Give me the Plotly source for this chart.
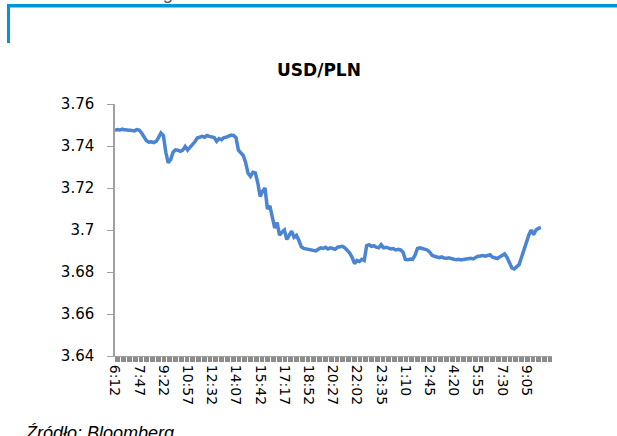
import plotly.graph_objects as go

# Tick labels (every 10th category) and series values
tick_labels = ["6:12", "7:47", "9:22", "10:57", "12:32", "14:07", "15:42", "17:17", "18:52",
               "20:27", "22:02", "23:35", "1:10", "2:45", "4:20", "5:55", "7:30", "9:05"]

usdpln = [
    3.7475, 3.7478, 3.7476, 3.7480, 3.7477, 3.7478, 3.7475, 3.7474, 3.7472, 3.7478,
    3.7476, 3.7462, 3.7445, 3.7425, 3.7418, 3.7420, 3.7416, 3.7422, 3.7440, 3.7462,
    3.7450, 3.7370, 3.7320, 3.7335, 3.7370, 3.7382, 3.7380, 3.7375, 3.7380, 3.7398,
    3.7380, 3.7392, 3.7405, 3.7420, 3.7438, 3.7440, 3.7446, 3.7442, 3.7450, 3.7446,
    3.7444, 3.7440, 3.7422, 3.7435, 3.7430, 3.7440, 3.7442, 3.7445, 3.7452, 3.7450,
    3.7440, 3.7380, 3.7365, 3.7355, 3.7320, 3.7270, 3.7255, 3.7275, 3.7272, 3.7225,
    3.7160, 3.7185, 3.7200, 3.7100, 3.7115, 3.7060, 3.7010, 3.7035, 3.6975, 3.6990,
    3.7000, 3.6955, 3.6975, 3.6995, 3.6965, 3.6975, 3.6950, 3.6920, 3.6912, 3.6910,
    3.6908, 3.6905, 3.6903, 3.6900, 3.6908, 3.6915, 3.6912, 3.6918, 3.6910, 3.6915,
    3.6912, 3.6908, 3.6918, 3.6920, 3.6922, 3.6915, 3.6905, 3.6890, 3.6870, 3.6840,
    3.6855, 3.6850, 3.6860, 3.6855, 3.6925, 3.6930, 3.6922, 3.6925, 3.6918, 3.6915,
    3.6930, 3.6915, 3.6918, 3.6912, 3.6910, 3.6912, 3.6905, 3.6908, 3.6905, 3.6895,
    3.6860, 3.6858, 3.6862, 3.6860, 3.6880, 3.6912, 3.6915, 3.6912, 3.6908, 3.6905,
    3.6895, 3.6880, 3.6875, 3.6872, 3.6868, 3.6872, 3.6866, 3.6865, 3.6868, 3.6864,
    3.6860, 3.6858, 3.6860, 3.6857, 3.6860, 3.6862, 3.6860, 3.6865, 3.6862, 3.6870,
    3.6875, 3.6876, 3.6878, 3.6875, 3.6877, 3.6882, 3.6870, 3.6866, 3.6864, 3.6872,
    3.6880, 3.6886, 3.6870, 3.6840, 3.6820, 3.6815, 3.6825, 3.6835, 3.6870, 3.6900,
    3.6940, 3.6975, 3.7000, 3.6978, 3.7000, 3.7008, 3.7012,
]

y_ticks = [3.64, 3.66, 3.68, 3.70, 3.72, 3.74, 3.76]
y_tick_text = ["3.64", "3.66", "3.68", "3.7", "3.72", "3.74", "3.76"]

W, H = 617, 436
L, R, T, B = 115, 65, 104, 80
PW, PH = W - L - R, H - T - B


def px(x):
    return (x - L) / PW


def py(y):
    return (H - B - y) / PH


idx = list(range(len(usdpln)))

fig = go.Figure()
fig.add_trace(go.Scatter(x=idx, y=usdpln, mode="lines",
                         line=dict(color="#4a84d2", width=3.5), hoverinfo="skip"))

axis_gray = "#a0a0a0"
fig.update_layout(
    width=W, height=H,
    margin=dict(l=L, r=R, t=T, b=B),
    paper_bgcolor="white", plot_bgcolor="white",
    showlegend=False,
    title=dict(text="<b>USD/PLN</b>", x=319 / W, xanchor="center",
               y=1 - 70 / H, yanchor="middle",
               font=dict(family="DejaVu Sans", size=17, color="black")),
    xaxis=dict(
        range=[0, 180.6],
        tickvals=list(range(0, 10 * len(tick_labels), 10)),
        ticktext=tick_labels,
        tickangle=90,
        ticks="outside", ticklen=5, tickcolor="#8c8c8c", tickwidth=1,
        minor=dict(ticks="outside", dtick=0.5, ticklen=5, tickcolor="#8c8c8c", tickwidth=1),
        showline=True, linecolor=axis_gray, linewidth=1,
        showgrid=False, zeroline=False,
        tickfont=dict(family="DejaVu Sans", size=14, color="black"),
    ),
    yaxis=dict(
        range=[3.64, 3.76],
        tickvals=y_ticks, ticktext=y_tick_text,
        ticks="outside", ticklen=6, tickcolor=axis_gray,
        ticklabelstandoff=10,
        showline=True, linecolor=axis_gray, linewidth=1.5,
        showgrid=False, zeroline=False,
        tickfont=dict(family="DejaVu Sans", size=15, color="black"),
    ),
)

blue = "#0096d6"
fig.add_shape(type="rect", xref="paper", yref="paper",
              x0=px(7), x1=px(W + 2), y0=py(7.5), y1=py(4),
              fillcolor=blue, line=dict(width=0))
fig.add_shape(type="rect", xref="paper", yref="paper",
              x0=px(7), x1=px(10), y0=py(43), y1=py(4),
              fillcolor=blue, line=dict(width=0))

fig.add_annotation(text="<i>Źródło: Bloomberg</i>", xref="paper", yref="paper",
                   x=px(23), y=py(421), xanchor="left", yanchor="top", showarrow=False,
                   font=dict(family="Liberation Sans", size=18, color="black"))
fig.add_annotation(text="<i>Źródło: Bloomberg</i>", xref="paper", yref="paper",
                   x=px(23), y=py(5), xanchor="left", yanchor="bottom", showarrow=False,
                   font=dict(family="Liberation Sans", size=18, color="#555555"))

fig.write_html("out.html", config={"displayModeBar": False},
               post_script="document.body.style.margin='0';")
